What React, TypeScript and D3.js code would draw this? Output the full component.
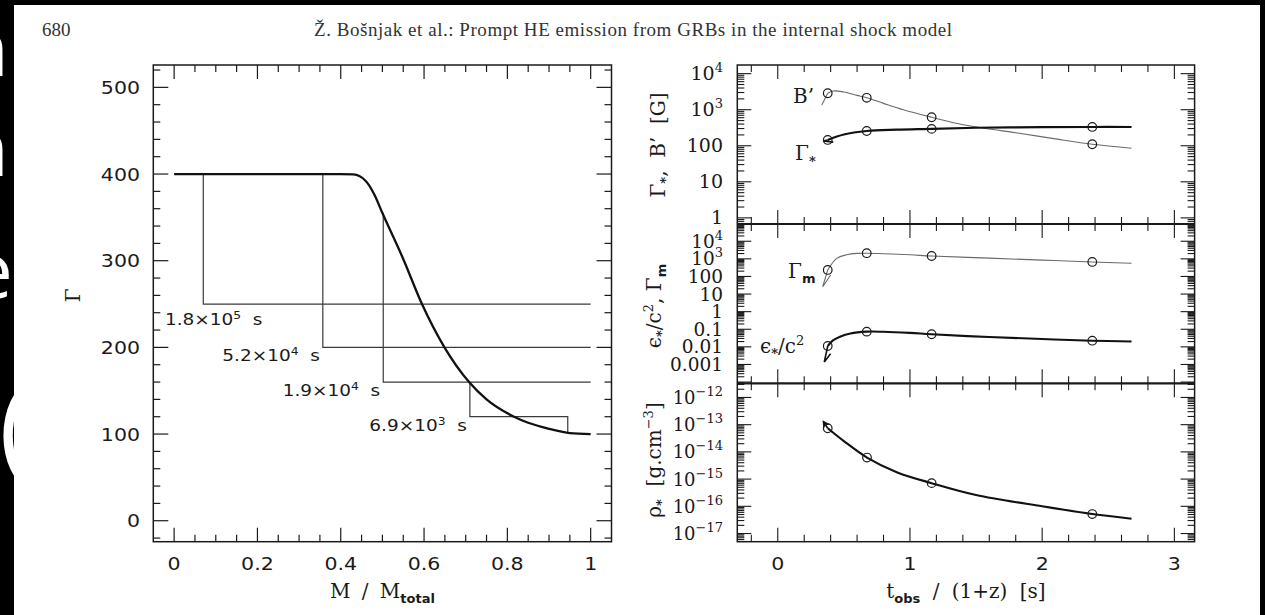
import React from 'react';
import * as d3 from 'd3';

// ---------- Left panel data: Lorentz factor vs mass fraction ----------
const massFrac = [0, 0.1, 0.2, 0.3, 0.4, 0.43, 0.46, 0.48, 0.5, 0.55, 0.595, 0.649, 0.708, 0.75, 0.816, 0.85, 0.9, 0.95, 1.0];
const lorentz = [400, 400, 400, 400, 400, 399.5, 392, 377, 355, 302, 250, 200, 160, 140, 120, 113, 106, 101, 100];

const shellX = [0.07, 0.357, 0.502, 0.71];
const shellTop = [400, 400, 355, 160];
const shellLevel = [250, 200, 160, 120];
const shellEnd = [1, 1, 1, 0.945];
const shellBottom = [250, 200, 160, 101];
const shellMant = ['1.8', '5.2', '1.9', '6.9'];
const shellExp = ['5', '4', '4', '3'];

const xTicksL = [0, 0.2, 0.4, 0.6, 0.8, 1];
const xTickLabelsL = ['0', '0.2', '0.4', '0.6', '0.8', '1'];
const yTicksL = [0, 100, 200, 300, 400, 500];
const yTickLabelsL = ['0', '100', '200', '300', '400', '500'];

// ---------- Right panels data ----------
const circleT = [0.378, 0.673, 1.164, 2.379];

const tB = [0.378, 0.42, 0.5, 0.6, 0.673, 0.8, 0.95, 1.164, 1.35, 1.575, 1.8, 2.1, 2.379, 2.676];
const bField = [2860, 3300, 3100, 2500, 2140, 1500, 1000, 617, 420, 300, 230, 155, 110, 85];
const tBTail = [0.378, 0.333];
const bTail = [2860, 1350];

const tGs = [0.378, 0.5, 0.673, 0.9, 1.164, 1.5, 2.0, 2.379, 2.676];
const gammaS = [145, 205, 257, 280, 294, 315, 328, 333, 333];
const tGsTail = [0.378, 0.345, 0.42];
const gsTail = [145, 135, 126];

const tGm = [0.378, 0.446, 0.52, 0.6, 0.673, 0.8, 1.0, 1.164, 1.6, 2.0, 2.379, 2.676];
const gammaMin = [234, 1070, 1700, 2050, 2090, 1950, 1700, 1450, 1100, 850, 665, 560];
const tGmTail = [0.378, 0.34, 0.40];
const gmTail = [234, 26, 120];

const tEps = [0.378, 0.42, 0.471, 0.55, 0.673, 0.8, 1.0, 1.164, 1.6, 2.0, 2.379, 2.676];
const epsC2 = [0.0112, 0.024, 0.038, 0.058, 0.073, 0.072, 0.062, 0.052, 0.036, 0.028, 0.0224, 0.02];
const tEpsTail = [0.378, 0.352, 0.40];
const epsTail = [0.0112, 0.0014, 0.004];

const tRho = [0.378, 0.5, 0.675, 0.9, 1.164, 1.5, 2.0, 2.379, 2.676];
const rho = [7.4e-14, 2.5e-14, 6.2e-15, 1.8e-15, 7.1e-16, 2.6e-16, 1.0e-16, 5.2e-17, 3.5e-17];
const tRhoTail = [0.378, 0.345];
const rhoTail = [7.4e-14, 1.3e-13];

const xTicksR = [0, 1, 2, 3];
const xTickLabelsR = ['0', '1', '2', '3'];
const yLabels1 = [
  { v: 1, t: '1', e: '' }, { v: 10, t: '10', e: '' }, { v: 100, t: '100', e: '' },
  { v: 1e3, t: '10', e: '3' }, { v: 1e4, t: '10', e: '4' },
];
const yLabels2 = [
  { v: 1e-3, t: '0.001', e: '' }, { v: 1e-2, t: '0.01', e: '' }, { v: 0.1, t: '0.1', e: '' },
  { v: 1, t: '1', e: '' }, { v: 10, t: '10', e: '' }, { v: 100, t: '100', e: '' },
  { v: 1e3, t: '10', e: '3' }, { v: 1e4, t: '10', e: '4' },
];
const yLabels3 = [
  { v: 1e-17, t: '10', e: '−17' }, { v: 1e-16, t: '10', e: '−16' }, { v: 1e-15, t: '10', e: '−15' },
  { v: 1e-14, t: '10', e: '−14' }, { v: 1e-13, t: '10', e: '−13' }, { v: 1e-12, t: '10', e: '−12' },
];

const SANS = 'DejaVu Sans';
const SERIF = 'DejaVu Serif';
const INK = '#1a1a1a';

function logTicks(domain: number[]) {
  const [a, b] = domain;
  const majors: number[] = [];
  const minors: number[] = [];
  for (let k = Math.floor(Math.log10(a)) - 1; k <= Math.ceil(Math.log10(b)); k++) {
    for (let m = 1; m <= 9; m++) {
      const v = m * Math.pow(10, k);
      if (v >= a && v <= b) (m === 1 ? majors : minors).push(v);
    }
  }
  return { majors, minors };
}

function SText({ x, y, anchor = 'middle', size = 18, sx = 1.14, children }: any) {
  return (
    <g transform={`translate(${x},${y}) scale(${sx},1)`}>
      <text x={0} y={0} textAnchor={anchor} fontFamily={SANS} fontSize={size} fill={INK} style={{ whiteSpace: 'pre' }}>
        {children}
      </text>
    </g>
  );
}

export default function App() {
  const W = 1265, H = 615;

  // Left panel scales
  const xL = d3.scaleLinear().domain([-0.05, 1.05]).range([153.3, 611.5]);
  const yL = d3.scaleLinear().domain([-24.2, 525.8]).range([541.7, 65]);
  const [lx0, lx1] = xL.range();
  const [ly0, ly1] = yL.range();

  const mainLine = d3.line<number>().x((_, i) => xL(massFrac[i])).y((d) => yL(d)).curve(d3.curveMonotoneX);

  const xMinorL = d3.range(0, 21).map((i) => i * 0.05).filter((v) => v < 1.04 && Math.abs(v / 0.2 - Math.round(v / 0.2)) > 1e-6);
  const yMinorL = d3.range(-20, 521, 20).filter((v) => v % 100 !== 0);

  // Right panel scales
  const xR = d3.scaleLinear().domain([-0.306, 3.153]).range([737.3, 1194.6]);
  const [rx0, rx1] = xR.range();
  const y1 = d3.scaleLog().domain([Math.pow(10, -0.17), Math.pow(10, 4.24)]).range([224, 65]);
  const y2 = d3.scaleLog().domain([Math.pow(10, -4.07), Math.pow(10, 4.98)]).range([383.3, 224]);
  const y3 = d3.scaleLog().domain([Math.pow(10, -17.3), Math.pow(10, -11.48)]).range([541.7, 383.3]);

  const mk = (ts: number[], vs: number[], ys: any, curve: any = d3.curveCatmullRom) =>
    d3.line<number>().x((_, i) => xR(ts[i])).y((d) => ys(d)).curve(curve)(vs) as string;

  const xMinorR = d3.range(-0.2, 3.15, 0.2).filter((v) => Math.abs(v - Math.round(v)) > 1e-6);

  const panels = [
    { y: y1, labels: yLabels1, size: 19 },
    { y: y2, labels: yLabels2, size: 18.5 },
    { y: y3, labels: yLabels3, size: 18 },
  ];

  const circlesOf = (ts: number[], vs: number[], ys: any) =>
    ts.map((t, i) => ({ t, v: vs[i] })).filter((p) => circleT.some((c) => Math.abs(c - p.t) < 0.004)).map((p, i) => (
      <circle key={i} cx={xR(p.t)} cy={ys(p.v)} r={4.3} fill="none" stroke={INK} strokeWidth={1.2} />
    ));

  const thin = { fill: 'none', stroke: '#6a6a6a', strokeWidth: 1.1 };
  const thick = { fill: 'none', stroke: '#111', strokeWidth: 2.1 };

  return (
    <svg width={W} height={H} style={{ position: 'absolute', left: 0, top: 0 }} xmlns="http://www.w3.org/2000/svg">
      <defs>
        <clipPath id="strip"><rect x={0} y={0} width={14} height={H} /></clipPath>
        <marker id="arrow" viewBox="0 0 10 10" refX={8} refY={5} markerWidth={5} markerHeight={5} orient="auto">
          <path d="M0,0 L10,5 L0,10 L3,5 Z" fill="#111" />
        </marker>
      </defs>
      <rect x={0} y={0} width={W} height={H} fill="#000" />
      <rect x={14} y={5} width={1246} height={H - 5} fill="#fff" />
      {/* fragments of large white text in the left black strip */}
      <g clipPath="url(#strip)" fill="#fff" fontFamily="Open Sans" fontSize={76}>
        <text x={-38} y={76}>n</text>
        <text x={-38} y={176}>n</text>
        <text x={-30} y={298}>e</text>
        <text x={-1} y={466} fontSize={112}>(</text>
      </g>

      {/* header */}
      <text x={42} y={36} fontFamily="Liberation Serif" fontSize={19} fill="#333">680</text>
      <text x={314} y={36} fontFamily="Liberation Serif" fontSize={19} fill="#333" textLength={638} lengthAdjust="spacing">
        Ž. Bošnjak et al.: Prompt HE emission from GRBs in the internal shock model
      </text>

      {/* ================= Left panel ================= */}
      <g>
        {shellX.map((sx, i) => (
          <path key={i}
            d={`M${xL(sx)},${yL(shellTop[i])}V${yL(shellLevel[i])}H${xL(shellEnd[i])}V${yL(shellBottom[i])}`}
            fill="none" stroke="#3a3a3a" strokeWidth={1.2} />
        ))}
        <path d={mainLine(lorentz) as string} fill="none" stroke="#111" strokeWidth={2.3} />
        {shellX.map((sx, i) => {
          const first = i === 0;
          return (
            <SText key={i} x={first ? xL(-0.022) : xL(sx) - 3} y={yL(shellLevel[i]) + (first ? 21 : 14)} anchor={first ? 'start' : 'end'} size={16.5} sx={1.12}>
              {shellMant[i]}×10<tspan dy={-6} fontSize={11}>{shellExp[i]}</tspan><tspan dy={6}>{'  s'}</tspan>
            </SText>
          );
        })}
        <rect x={lx0} y={ly1} width={lx1 - lx0} height={ly0 - ly1} fill="none" stroke={INK} strokeWidth={1.5} />
        {xTicksL.map((v) => (
          <g key={'xm' + v} stroke={INK} strokeWidth={1.2}>
            <line x1={xL(v)} x2={xL(v)} y1={ly0} y2={ly0 - 14} />
            <line x1={xL(v)} x2={xL(v)} y1={ly1} y2={ly1 + 14} />
          </g>
        ))}
        {xMinorL.map((v) => (
          <g key={'xn' + v} stroke={INK} strokeWidth={1.2}>
            <line x1={xL(v)} x2={xL(v)} y1={ly0} y2={ly0 - 7} />
            <line x1={xL(v)} x2={xL(v)} y1={ly1} y2={ly1 + 7} />
          </g>
        ))}
        {yTicksL.map((v) => (
          <g key={'ym' + v} stroke={INK} strokeWidth={1.2}>
            <line x1={lx0} x2={lx0 + 15} y1={yL(v)} y2={yL(v)} />
            <line x1={lx1} x2={lx1 - 15} y1={yL(v)} y2={yL(v)} />
          </g>
        ))}
        {yMinorL.map((v) => (
          <g key={'yn' + v} stroke={INK} strokeWidth={1.2}>
            <line x1={lx0} x2={lx0 + 7} y1={yL(v)} y2={yL(v)} />
            <line x1={lx1} x2={lx1 - 7} y1={yL(v)} y2={yL(v)} />
          </g>
        ))}
        {xTicksL.map((v, i) => (
          <SText key={'xl' + v} x={xL(v)} y={570} anchor="middle">{xTickLabelsL[i]}</SText>
        ))}
        {yTicksL.map((v, i) => (
          <SText key={'yl' + v} x={140} y={yL(v) + 6.5} anchor="end">{yTickLabelsL[i]}</SText>
        ))}
        <text transform={`translate(80,${(ly0 + ly1) / 2 - 8}) rotate(-90)`} textAnchor="middle" fontFamily={SERIF} fontSize={20} fill={INK}>Γ</text>
        <text x={(lx0 + lx1) / 2} y={598} textAnchor="middle" fontFamily={SERIF} fontSize={20} fill={INK} style={{ wordSpacing: '5px' }}>
          M / M<tspan dy={5} fontSize={13} fontWeight="bold" fontFamily={SANS}>total</tspan>
        </text>
      </g>

      {/* ================= Right panels ================= */}
      <g>
        <path d={mk(tB, bField, y1)} {...thin} />
        <path d={mk(tBTail, bTail, y1, d3.curveLinear)} {...thin} />
        <path d={mk(tGs, gammaS, y1)} {...thick} />
        <path d={mk(tGsTail, gsTail, y1, d3.curveLinear)} {...thick} strokeWidth={1.6} />
        {circlesOf(tB, bField, y1)}
        {circlesOf(tGs, gammaS, y1)}

        <path d={mk(tGm, gammaMin, y2)} {...thin} />
        <path d={mk(tGmTail, gmTail, y2, d3.curveLinear)} {...thin} />
        <path d={mk(tEps, epsC2, y2)} {...thick} />
        <path d={mk(tEpsTail, epsTail, y2, d3.curveLinear)} {...thick} strokeWidth={1.6} />
        {circlesOf(tGm, gammaMin, y2)}
        {circlesOf(tEps, epsC2, y2)}

        <path d={mk(tRho, rho, y3)} {...thick} />
        <path d={mk(tRhoTail, rhoTail, y3, d3.curveLinear)} {...thick} strokeWidth={1.6} markerEnd="url(#arrow)" />
        {circlesOf(tRho, rho, y3)}

        <text x={793} y={103} fontFamily={SERIF} fontSize={20} fill={INK}>B’</text>
        <text x={795} y={160} fontFamily={SERIF} fontSize={20} fill={INK}>Γ<tspan dy={6} fontSize={13} fontWeight="bold">*</tspan></text>
        <text x={788} y={278} fontFamily={SERIF} fontSize={20} fill={INK}>Γ<tspan dy={5} fontSize={13} fontWeight="bold" fontFamily={SANS}>m</tspan></text>
        <text x={760} y={353} fontFamily={SERIF} fontSize={20} fill={INK}>ϵ<tspan dy={5} fontSize={13} fontWeight="bold">*</tspan><tspan dy={-5}>/c</tspan><tspan dy={-8} fontSize={13}>2</tspan></text>

        <rect x={rx0} y={65} width={rx1 - rx0} height={541.7 - 65} fill="none" stroke={INK} strokeWidth={1.5} />
        <line x1={rx0} x2={rx1} y1={224} y2={224} stroke={INK} strokeWidth={2.2} />
        <line x1={rx0} x2={rx1} y1={383.3} y2={383.3} stroke={INK} strokeWidth={2.2} />

        {panels.map((p, pi) => {
          const [b, t] = p.y.range();
          const { majors, minors } = logTicks(p.y.domain());
          return (
            <g key={pi} stroke={INK} strokeWidth={1.1}>
              {xTicksR.map((v) => (
                <g key={'m' + v}>
                  <line x1={xR(v)} x2={xR(v)} y1={b} y2={b - 14} />
                  <line x1={xR(v)} x2={xR(v)} y1={t} y2={t + 14} />
                </g>
              ))}
              {xMinorR.map((v) => (
                <g key={'n' + v}>
                  <line x1={xR(v)} x2={xR(v)} y1={b} y2={b - 7} />
                  <line x1={xR(v)} x2={xR(v)} y1={t} y2={t + 7} />
                </g>
              ))}
              {majors.map((v) => (
                <g key={'M' + v}>
                  <line x1={rx0} x2={rx0 + 14} y1={p.y(v)} y2={p.y(v)} />
                  <line x1={rx1} x2={rx1 - 14} y1={p.y(v)} y2={p.y(v)} />
                </g>
              ))}
              {minors.map((v) => (
                <g key={'N' + v}>
                  <line x1={rx0} x2={rx0 + 7} y1={p.y(v)} y2={p.y(v)} />
                  <line x1={rx1} x2={rx1 - 7} y1={p.y(v)} y2={p.y(v)} />
                </g>
              ))}
            </g>
          );
        })}
        {panels.map((p, pi) => (
          <g key={'lab' + pi}>
            {p.labels.map((l) => (
              <text key={l.v} x={723} y={p.y(l.v) + 6.5} textAnchor="end" fontFamily={SERIF} fontSize={p.size} fill={INK}>
                {l.t}{l.e ? <tspan dy={-8} fontSize={13}>{l.e}</tspan> : null}
              </text>
            ))}
          </g>
        ))}
        {xTicksR.map((v, i) => (
          <SText key={'xr' + v} x={xR(v)} y={570} anchor="middle">{xTickLabelsR[i]}</SText>
        ))}

        <text transform="translate(665,145) rotate(-90)" textAnchor="middle" fontFamily={SERIF} fontSize={20} fill={INK} style={{ whiteSpace: 'pre' }}>
          Γ<tspan dy={5} fontSize={13} fontWeight="bold">*</tspan><tspan dy={-5}>,  B’  [G]</tspan>
        </text>
        <text transform="translate(661,306) rotate(-90)" textAnchor="middle" fontFamily={SERIF} fontSize={20} fill={INK}>
          ϵ<tspan dy={5} fontSize={13} fontWeight="bold">*</tspan><tspan dy={-5}>/c</tspan><tspan dy={-8} fontSize={13}>2</tspan><tspan dy={8}>, Γ</tspan><tspan dy={5} fontSize={13} fontWeight="bold" fontFamily={SANS}>m</tspan>
        </text>
        <text transform="translate(661,460) rotate(-90)" textAnchor="middle" fontFamily={SERIF} fontSize={20} fill={INK} style={{ whiteSpace: 'pre' }}>
          ρ<tspan dy={5} fontSize={13} fontWeight="bold">*</tspan><tspan dy={-5}>  [g.cm</tspan><tspan dy={-8} fontSize={13}>−3</tspan><tspan dy={8}>]</tspan>
        </text>
        <text x={(rx0 + rx1) / 2} y={598} textAnchor="middle" fontFamily={SERIF} fontSize={20} fill={INK} style={{ wordSpacing: '6px' }}>
          t<tspan dy={5} fontSize={13} fontWeight="bold" fontFamily={SANS}>obs</tspan><tspan dy={-5}> / (1+z) [s]</tspan>
        </text>
      </g>
    </svg>
  );
}
